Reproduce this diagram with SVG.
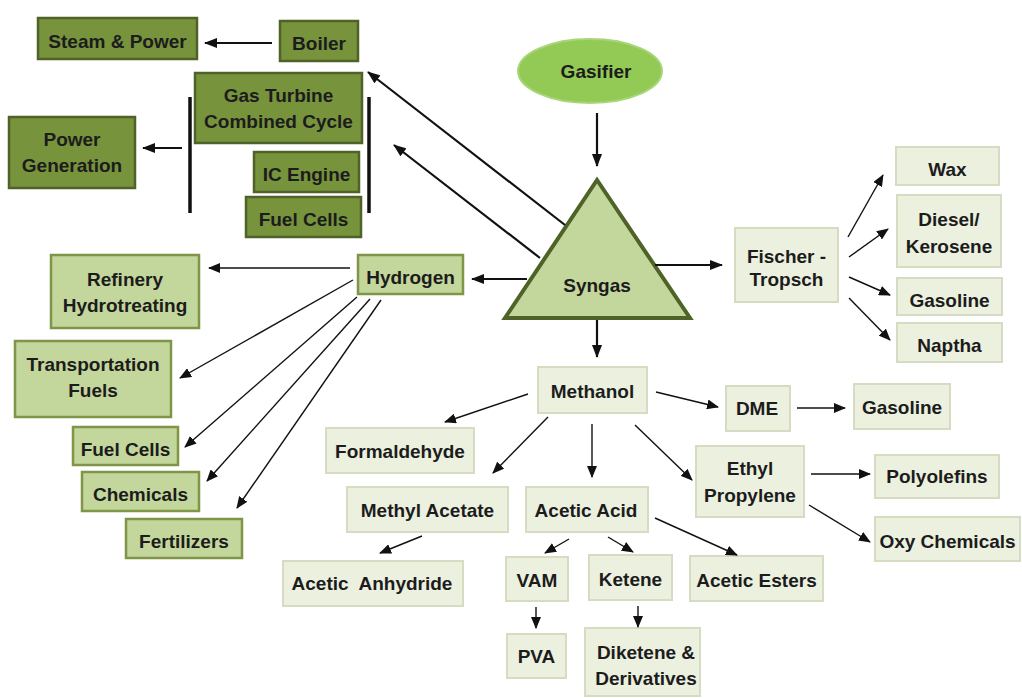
<svg xmlns="http://www.w3.org/2000/svg" width="1022" height="698" viewBox="0 0 1022 698">
<style>
text{font-family:"Liberation Sans",Arial,sans-serif;font-weight:bold;font-size:19px;fill:#1c1c1c;text-anchor:middle}
.d{fill:#77933C;stroke:#4F6228;stroke-width:2.5}
.m{fill:#C3D69B;stroke:#7F9548;stroke-width:2.5}
.p{fill:#EBF0DF;stroke:#D5DCC2;stroke-width:2}
.a{stroke:#111;stroke-width:2.2;fill:none;marker-end:url(#ah)}
.t{stroke:#111;stroke-width:1.4;fill:none;marker-end:url(#as)}
.bar{stroke:#111;stroke-width:3.5}
</style>
<defs>
<marker id="ah" markerWidth="13" markerHeight="10" refX="12" refY="5" orient="auto" markerUnits="userSpaceOnUse"><path d="M0,0 L13,5 L0,10 z" fill="#111"/></marker>
<marker id="as" markerWidth="12" markerHeight="10" refX="11" refY="5" orient="auto" markerUnits="userSpaceOnUse"><path d="M0,0 L12,5 L0,10 z" fill="#111"/></marker>
</defs>
<rect width="1022" height="698" fill="#fff"/>

<g id="gasifier"><ellipse cx="590" cy="71" rx="72" ry="32" fill="#92CA55" stroke="#A9D67A" stroke-width="2"/><text x="596" y="78">Gasifier</text></g>
<g id="syngas"><polygon points="597,180 505,318 690,318" fill="#C3D69B" stroke="#4F6228" stroke-width="4" stroke-linejoin="miter"/><text x="597" y="292">Syngas</text></g>

<g id="steam"><rect class="d" x="38" y="18" width="159" height="41"/><text x="117.5" y="48">Steam &amp; Power</text></g>
<g id="boiler"><rect class="d" x="280" y="21" width="78" height="40"/><text x="319" y="50">Boiler</text></g>
<g id="gtcc"><rect class="d" x="195" y="73" width="167" height="70"/><text x="278.5" y="102">Gas Turbine</text><text x="278.5" y="128">Combined Cycle</text></g>
<g id="powergen"><rect class="d" x="9" y="117" width="126" height="71"/><text x="72" y="146">Power</text><text x="72" y="172">Generation</text></g>
<g id="icengine"><rect class="d" x="254" y="152" width="105" height="40"/><text x="306.5" y="181">IC Engine</text></g>
<g id="fuelcells1"><rect class="d" x="246" y="197" width="115" height="40"/><text x="303.5" y="226">Fuel Cells</text></g>

<g id="hydrogen"><rect class="m" x="358" y="255" width="105" height="39"/><text x="410.5" y="284">Hydrogen</text></g>
<g id="refinery"><rect class="m" x="51" y="255" width="148" height="73"/><text x="125" y="286">Refinery</text><text x="125" y="312">Hydrotreating</text></g>
<g id="transport"><rect class="m" x="15" y="341" width="156" height="76"/><text x="93" y="371">Transportation</text><text x="93" y="397">Fuels</text></g>
<g id="fuelcells2"><rect class="m" x="73" y="427" width="105" height="38"/><text x="125.5" y="456">Fuel Cells</text></g>
<g id="chemicals"><rect class="m" x="82" y="472" width="117" height="39"/><text x="140.5" y="501">Chemicals</text></g>
<g id="fertilizers"><rect class="m" x="126" y="519" width="116" height="39"/><text x="184" y="548">Fertilizers</text></g>

<g id="fischer"><rect class="p" x="735" y="228" width="103" height="74"/><text x="786.5" y="263">Fischer -</text><text x="786.5" y="286">Tropsch</text></g>
<g id="wax"><rect class="p" x="896" y="147" width="103" height="38"/><text x="947.5" y="176">Wax</text></g>
<g id="diesel"><rect class="p" x="897" y="195" width="104" height="72"/><text x="949" y="226">Diesel/</text><text x="949" y="253">Kerosene</text></g>
<g id="gasoline1"><rect class="p" x="897" y="278" width="105" height="37"/><text x="949.5" y="307">Gasoline</text></g>
<g id="naptha"><rect class="p" x="897" y="323" width="105" height="39"/><text x="949.5" y="352">Naptha</text></g>

<g id="methanol"><rect class="p" x="538" y="367" width="109" height="46"/><text x="592.5" y="398">Methanol</text></g>
<g id="formaldehyde"><rect class="p" x="326" y="428" width="148" height="45"/><text x="400" y="458">Formaldehyde</text></g>
<g id="methylacetate"><rect class="p" x="347" y="487" width="161" height="45"/><text x="427.5" y="517">Methyl Acetate</text></g>
<g id="aceticacid"><rect class="p" x="526" y="487" width="122" height="45"/><text x="586" y="517">Acetic Acid</text></g>
<g id="anhydride"><rect class="p" x="283" y="561" width="180" height="45"/><text x="372" y="590" style="white-space:pre">Acetic  Anhydride</text></g>
<g id="vam"><rect class="p" x="506" y="557" width="62" height="44"/><text x="537" y="587">VAM</text></g>
<g id="ketene"><rect class="p" x="589" y="555" width="83" height="45"/><text x="630.5" y="586">Ketene</text></g>
<g id="pva"><rect class="p" x="507" y="634" width="59" height="44"/><text x="536.5" y="663">PVA</text></g>
<g id="diketene"><rect class="p" x="585" y="628" width="115" height="68"/><text x="646" y="659">Diketene &amp;</text><text x="646" y="685">Derivatives</text></g>
<g id="dme"><rect class="p" x="726" y="386" width="64" height="45"/><text x="757" y="415">DME</text></g>
<g id="gasoline2"><rect class="p" x="854" y="384" width="96" height="45"/><text x="902" y="414">Gasoline</text></g>
<g id="ethyl"><rect class="p" x="696" y="446" width="108" height="71"/><text x="750" y="475">Ethyl</text><text x="750" y="502">Propylene</text></g>
<g id="polyolefins"><rect class="p" x="875" y="455" width="124" height="43"/><text x="937" y="483">Polyolefins</text></g>
<g id="oxy"><rect class="p" x="875" y="517" width="145" height="44"/><text x="947.5" y="548">Oxy Chemicals</text></g>
<g id="esters"><rect class="p" x="690" y="556" width="133" height="45"/><text x="756.5" y="587">Acetic Esters</text></g>

<g id="connectors">
<line class="bar" x1="190" y1="97" x2="190" y2="213"/>
<line class="bar" x1="369" y1="97" x2="369" y2="213"/>
<line class="a" x1="597" y1="113" x2="597" y2="166"/>
<line class="a" x1="565" y1="225" x2="368" y2="72"/>
<line class="a" x1="540" y1="258" x2="394" y2="145"/>
<line class="a" x1="527" y1="279" x2="472" y2="279"/>
<line class="a" x1="655" y1="265" x2="722" y2="265"/>
<line class="a" x1="597" y1="320" x2="597" y2="357"/>
<line class="a" x1="272" y1="43" x2="205" y2="43"/>
<line class="a" x1="182" y1="148" x2="143" y2="148"/>
<line class="t" x1="350" y1="268" x2="209" y2="268"/>
<line class="t" x1="353" y1="280" x2="180" y2="378"/>
<line class="t" x1="357" y1="297" x2="185" y2="447"/>
<line class="t" x1="370" y1="299" x2="207" y2="481"/>
<line class="t" x1="381" y1="300" x2="237" y2="508"/>
<line class="t" x1="848" y1="237" x2="883" y2="175"/>
<line class="t" x1="849" y1="257" x2="888" y2="229"/>
<line class="t" x1="849" y1="277" x2="890" y2="295"/>
<line class="t" x1="849" y1="298" x2="890" y2="340"/>
<line class="t" x1="528" y1="394" x2="445" y2="422"/>
<line class="t" x1="548" y1="417" x2="493" y2="473"/>
<line class="t" x1="592" y1="424" x2="592" y2="477"/>
<line class="t" x1="635" y1="425" x2="692" y2="480"/>
<line class="t" x1="656" y1="392" x2="718" y2="407"/>
<line class="t" x1="797" y1="408" x2="845" y2="408"/>
<line class="t" x1="811" y1="474" x2="870" y2="474"/>
<line class="t" x1="809" y1="505" x2="870" y2="542"/>
<line class="t" x1="422" y1="536" x2="380" y2="553"/>
<line class="t" x1="569" y1="539" x2="545" y2="553"/>
<line class="t" x1="608" y1="537" x2="633" y2="552"/>
<line class="t" x1="655" y1="518" x2="737" y2="555"/>
<line class="t" x1="536" y1="607" x2="536" y2="628"/>
<line class="t" x1="638" y1="606" x2="638" y2="627"/>
</g>
</svg>
